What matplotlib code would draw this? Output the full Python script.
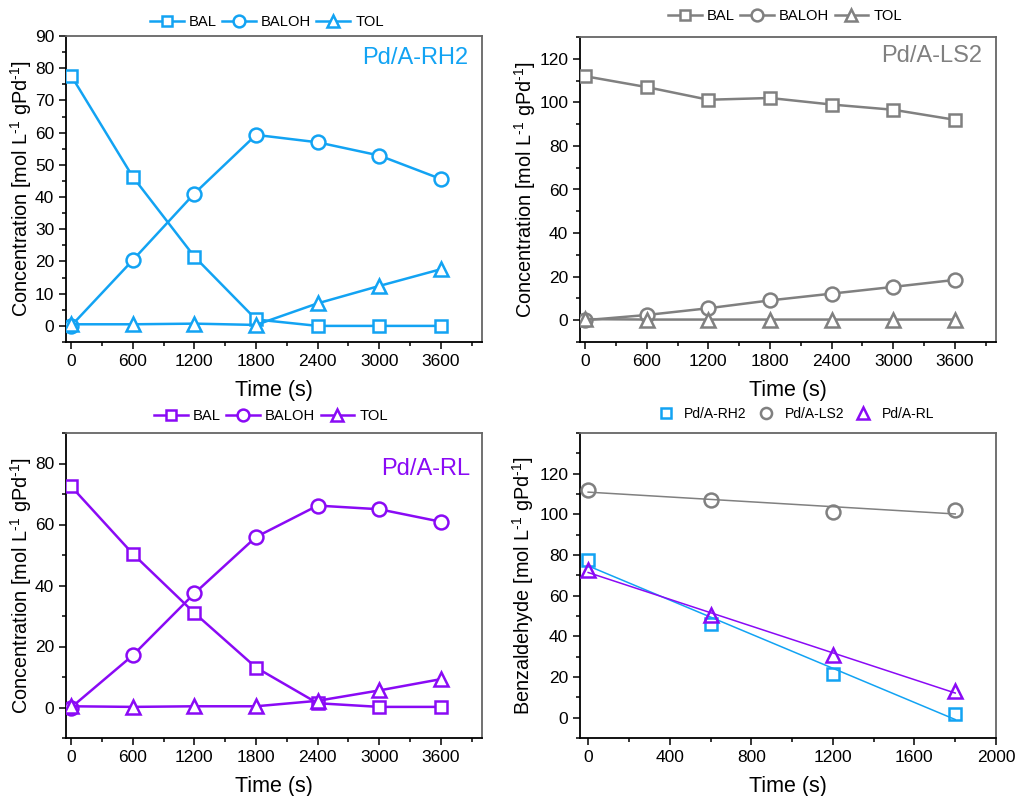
import numpy as np
import matplotlib
matplotlib.use("Agg")
import matplotlib.pyplot as plt
from matplotlib.ticker import MultipleLocator
from matplotlib.lines import Line2D

plt.rcParams['font.family'] = ['Liberation Sans', 'DejaVu Sans']
plt.rcParams['mathtext.fontset'] = 'custom'
plt.rcParams['mathtext.rm'] = 'Liberation Sans'
plt.rcParams['mathtext.default'] = 'regular'

# ---- data ----
time_s = [0, 600, 1200, 1800, 2400, 3000, 3600]

rh2_bal = [77.7, 46.3, 21.5, 2.0, 0.0, 0.0, 0.0]
rh2_baloh = [0.0, 20.4, 41.1, 59.3, 57.0, 52.9, 45.6]
rh2_tol = [0.5, 0.5, 0.7, 0.3, 7.0, 12.4, 17.6]

ls2_bal = [112.0, 107.0, 101.2, 102.0, 99.0, 96.6, 92.0]
ls2_baloh = [0.0, 2.4, 5.5, 9.1, 12.2, 15.3, 18.5]
ls2_tol = [0.5, 0.3, 0.3, 0.3, 0.3, 0.3, 0.3]

rl_bal = [72.5, 50.4, 31.0, 13.1, 1.4, 0.2, 0.2]
rl_baloh = [0.0, 17.1, 37.4, 55.9, 66.2, 65.0, 60.9]
rl_tol = [0.4, 0.2, 0.4, 0.4, 2.2, 5.6, 9.3]

fit_time = [0, 600, 1200, 1800]
series_labels = ["BAL", "BALOH", "TOL"]
catalysts = ["Pd/A-RH2", "Pd/A-LS2", "Pd/A-RL"]

CYAN = "#12A3F3"
GREY = "#808080"
PURPLE = "#8A0AF5"

W, H = 1015, 796
fig = plt.figure(figsize=(W / 100, H / 100), dpi=100)


def frac_axes(left, top, right, bottom):
    return fig.add_axes([left / W, 1 - bottom / H, (right - left) / W, (bottom - top) / H])


def style_axes(ax):
    for side in ("left", "bottom"):
        ax.spines[side].set_color("black")
        ax.spines[side].set_linewidth(1.3)
    for side in ("top", "right"):
        ax.spines[side].set_color("#666666")
        ax.spines[side].set_linewidth(1.3)
    ax.tick_params(which="both", direction="out", top=False, right=False,
                   labelsize=12.5, width=1.1, colors="black")
    ax.tick_params(which="major", length=5)
    ax.tick_params(which="minor", length=3)
    ax.set_xlabel("Time (s)", fontsize=15.5, labelpad=8)


HY = "\u2010"
unit = f"[mol L$^{{{HY}1}}$ gPd$^{{{HY}1}}$]"
ylab = "Concentration " + unit
markers = ["s", "o", "^"]
msizes = [9, 10, 10.5]


def kinetics_panel(ax, series, color, ylim, ymaj, ymin, name, name_xy, leg_xy):
    for vals, m, ms, lab in zip(series, markers, msizes, series_labels):
        ax.plot(time_s, vals, color=color, lw=1.8, marker=m, ms=ms,
                mfc="white", mec=color, mew=1.8, label=lab, zorder=3)
    ax.set_xlim(-50, 4000)
    ax.set_ylim(*ylim)
    ax.xaxis.set_major_locator(MultipleLocator(600))
    ax.xaxis.set_minor_locator(MultipleLocator(300))
    ax.yaxis.set_major_locator(MultipleLocator(ymaj))
    ax.yaxis.set_minor_locator(MultipleLocator(ymin))
    ax.set_xticks(time_s)
    ax.set_ylabel(ylab, fontsize=14.3, labelpad=0.5)
    style_axes(ax)
    ax.text(name_xy[0], name_xy[1], name, transform=ax.transAxes, ha="right",
            va="center", color=color, fontsize=17)
    lh = [Line2D([0], [0], color=color, lw=1.8, marker=m, ms=ms * 0.85, mfc="white",
                 mec=color, mew=1.8) for m, ms in zip(markers, msizes)]
    ax.legend(lh, series_labels, loc="center", bbox_to_anchor=leg_xy, ncol=3,
              frameon=False, fontsize=10.6, handlelength=2.3, handletextpad=0.35,
              columnspacing=0.35, borderpad=0)


ax1 = frac_axes(66, 36, 482, 342)
kinetics_panel(ax1, [rh2_bal, rh2_baloh, rh2_tol], CYAN, (-5, 90), 10, 5,
               "Pd/A-RH2", (0.966, 0.928), (0.483, 1.045))

ax2 = frac_axes(580, 37, 996, 342)
kinetics_panel(ax2, [ls2_bal, ls2_baloh, ls2_tol], GREY, (-10, 130), 20, 10,
               "Pd/A-LS2", (0.966, 0.937), (0.493, 1.068))

ax3 = frac_axes(66, 433, 482, 738)
kinetics_panel(ax3, [rl_bal, rl_baloh, rl_tol], PURPLE, (-10, 90), 20, 10,
               "Pd/A-RL", (0.971, 0.883), (0.493, 1.056))

# ---- initial-rate comparison with linear fits ----
ax4 = frac_axes(580, 433, 996, 738)
fit_sets = [(rh2_bal[:4], CYAN, "s", 9), (ls2_bal[:4], GREY, "o", 10),
            (rl_bal[:4], PURPLE, "^", 10.5)]
for (vals, color, m, ms), lab in zip(fit_sets, catalysts):
    slope, icpt = np.polyfit(fit_time, vals, 1)
    tt = np.array([fit_time[0], fit_time[-1]])
    ax4.plot(tt, slope * tt + icpt, color=color, lw=1.1, zorder=2)
    ax4.plot(fit_time, vals, ls="none", marker=m, ms=ms, mfc="none", mec=color,
             mew=1.8, label=lab, zorder=3)
ax4.set_xlim(-40, 2000)
ax4.set_ylim(-10, 140)
ax4.xaxis.set_major_locator(MultipleLocator(400))
ax4.xaxis.set_minor_locator(MultipleLocator(200))
ax4.set_yticks([0, 20, 40, 60, 80, 100, 120])
ax4.yaxis.set_minor_locator(MultipleLocator(10))
ax4.set_ylabel("Benzaldehyde " + unit, fontsize=14.3, labelpad=2)
style_axes(ax4)
ax4.legend(loc="center", bbox_to_anchor=(0.52, 1.062), ncol=3, frameon=False,
           fontsize=10, handlelength=1.0, handletextpad=0.85, columnspacing=0.85,
           borderpad=0, markerscale=0.8)

fig.savefig("out.png", dpi=100)
